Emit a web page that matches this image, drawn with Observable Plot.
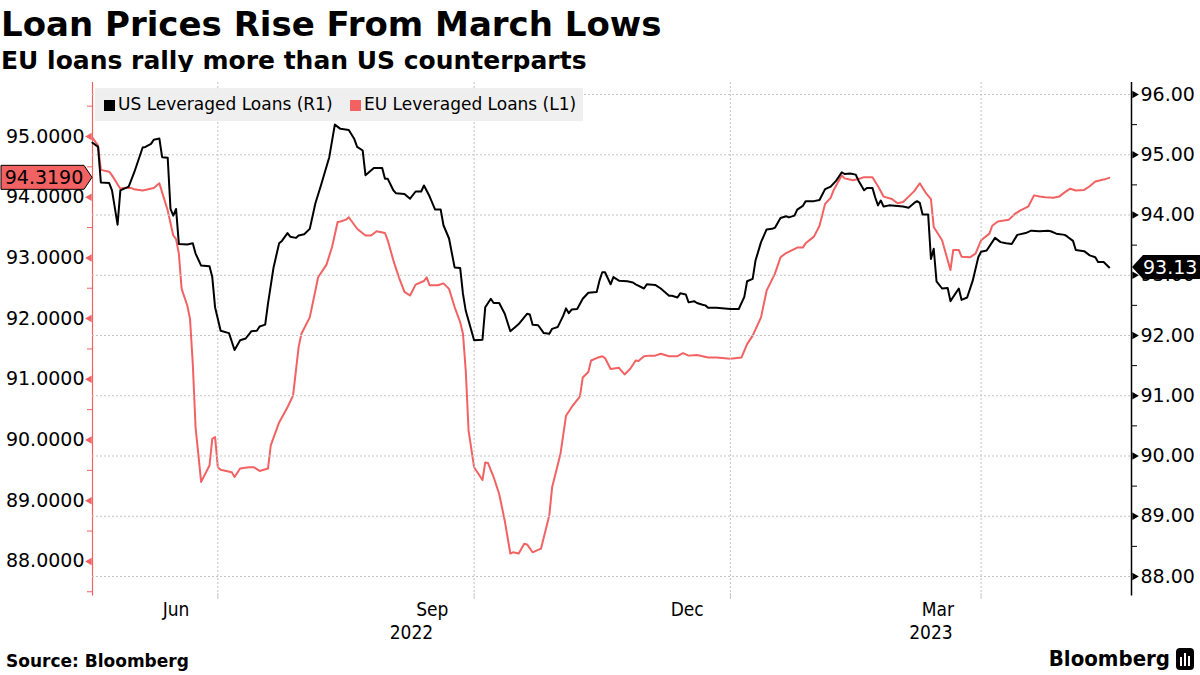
<!DOCTYPE html>
<html>
<head>
<meta charset="utf-8">
<script src="https://cdn.jsdelivr.net/npm/d3@7"></script>
<script src="https://cdn.jsdelivr.net/npm/@observablehq/plot@0.6"></script>
<style>
  html, body { margin: 0; padding: 0; background: #fff; }
  #wrap { position: relative; width: 1200px; height: 675px; overflow: hidden; font-family: "DejaVu Sans", sans-serif; color: #000; }
  #title { position: absolute; left: 1px; top: 7px; font-family: "DejaVu Sans"; font-weight: bold; font-size: 34px; line-height: 1; white-space: nowrap; }
  #subtitle { position: absolute; left: 1px; top: 48px; font-family: "DejaVu Sans"; font-weight: bold; font-size: 25px; line-height: 1; white-space: nowrap; }
  #chart { position: absolute; left: 0; top: 72px; width: 1200px; height: 575px; }
  #chart svg { position: absolute; left: 0; top: 0; }
  #legend { position: absolute; left: 95px; top: 88px; width: 488px; height: 33px; background: rgba(238,238,238,0.92); font-size: 17px; line-height: 33px; white-space: nowrap; }
  #legend .sw { display: inline-block; width: 11px; height: 11px; vertical-align: -1px; margin-right: 3px; }
  #legend .item { position: absolute; top: 0; }
  #source { position: absolute; left: 6px; top: 653px; font-family: "DejaVu Sans"; font-weight: bold; font-size: 17px; line-height: 1; }
  #logo { position: absolute; right: 6px; top: 648px; font-family: "DejaVu Sans Condensed", "DejaVu Sans"; font-stretch: condensed; font-weight: bold; font-size: 22px; line-height: 1; display: flex; align-items: center; gap: 6px; }
</style>
</head>
<body>
<div id="wrap">
  <div id="title">Loan Prices Rise From March Lows</div>
  <div id="subtitle">EU loans rally more than US counterparts</div>
  <div id="chart"></div>
  <div id="legend"></div>
  <div id="source">Source: Bloomberg</div>
  <div id="logo"><span>Bloomberg</span><svg width="18" height="22" viewBox="0 0 18 22"><rect x="0" y="0" width="18" height="22" rx="4" fill="#000"/><rect x="4" y="9" width="2" height="9" fill="#fff"/><rect x="8" y="5" width="2" height="13" fill="#fff"/><rect x="12" y="8" width="2" height="10" fill="#fff"/></svg></div>
</div>
<script>
// ---------------- DATA ----------------
const seriesNames = ["US Leveraged Loans (R1)", "EU Leveraged Loans (L1)"];

const usDates = ["2022-05-17","2022-05-19","2022-05-20","2022-05-23","2022-05-24","2022-05-26","2022-05-27","2022-05-30","2022-06-01","2022-06-04","2022-06-05","2022-06-07","2022-06-08","2022-06-10","2022-06-11","2022-06-13","2022-06-14","2022-06-15","2022-06-16","2022-06-17","2022-06-20","2022-06-22","2022-06-23","2022-06-25","2022-06-28","2022-06-29","2022-06-30","2022-07-02","2022-07-05","2022-07-07","2022-07-09","2022-07-11","2022-07-13","2022-07-15","2022-07-16","2022-07-18","2022-07-19","2022-07-21","2022-07-23","2022-07-24","2022-07-26","2022-07-27","2022-07-29","2022-07-30","2022-08-01","2022-08-03","2022-08-05","2022-08-07","2022-08-10","2022-08-12","2022-08-14","2022-08-17","2022-08-19","2022-08-20","2022-08-22","2022-08-23","2022-08-26","2022-08-29","2022-08-30","2022-08-31","2022-09-02","2022-09-03","2022-09-06","2022-09-08","2022-09-10","2022-09-12","2022-09-13","2022-09-15","2022-09-17","2022-09-19","2022-09-20","2022-09-22","2022-09-24","2022-09-26","2022-09-27","2022-09-28","2022-10-01","2022-10-04","2022-10-05","2022-10-07","2022-10-08","2022-10-10","2022-10-12","2022-10-14","2022-10-16","2022-10-17","2022-10-20","2022-10-21","2022-10-22","2022-10-24","2022-10-26","2022-10-28","2022-10-29","2022-10-31","2022-11-02","2022-11-03","2022-11-04","2022-11-05","2022-11-07","2022-11-09","2022-11-11","2022-11-14","2022-11-15","2022-11-16","2022-11-17","2022-11-19","2022-11-20","2022-11-22","2022-11-25","2022-11-27","2022-11-28","2022-12-01","2022-12-02","2022-12-05","2022-12-07","2022-12-10","2022-12-11","2022-12-13","2022-12-14","2022-12-16","2022-12-17","2022-12-19","2022-12-20","2022-12-22","2022-12-23","2022-12-24","2022-12-27","2022-12-30","2023-01-01","2023-01-04","2023-01-06","2023-01-07","2023-01-09","2023-01-10","2023-01-12","2023-01-14","2023-01-16","2023-01-17","2023-01-19","2023-01-21","2023-01-22","2023-01-24","2023-01-25","2023-01-27","2023-01-28","2023-01-31","2023-02-02","2023-02-04","2023-02-06","2023-02-08","2023-02-10","2023-02-11","2023-02-13","2023-02-15","2023-02-16","2023-02-18","2023-02-19","2023-02-21","2023-02-22","2023-02-23","2023-02-24","2023-02-25","2023-02-27","2023-03-02","2023-03-04","2023-03-06","2023-03-08","2023-03-09","2023-03-10","2023-03-11","2023-03-13","2023-03-14","2023-03-15","2023-03-16","2023-03-18","2023-03-20","2023-03-21","2023-03-24","2023-03-25","2023-03-27","2023-03-29","2023-03-31","2023-04-01","2023-04-03","2023-04-06","2023-04-08","2023-04-10","2023-04-12","2023-04-14","2023-04-17","2023-04-19","2023-04-22","2023-04-25","2023-04-26","2023-04-28","2023-05-01","2023-05-02","2023-05-04","2023-05-05","2023-05-08","2023-05-10","2023-05-12","2023-05-13","2023-05-15","2023-05-17"];
const usValues = [95.20,95.13,94.54,94.53,94.41,93.84,94.41,94.47,94.71,95.12,95.13,95.18,95.25,95.27,94.96,94.95,94.10,93.99,94.10,93.52,93.51,93.53,93.36,93.16,93.15,92.97,92.47,92.08,92.04,91.76,91.92,91.95,92.07,92.08,92.15,92.18,92.53,93.13,93.53,93.57,93.70,93.64,93.62,93.66,93.68,93.77,94.19,94.49,94.96,95.50,95.43,95.41,95.26,95.13,95.07,94.66,94.78,94.78,94.60,94.60,94.41,94.36,94.35,94.27,94.39,94.39,94.49,94.31,94.09,94.09,93.83,93.61,93.13,93.12,92.69,92.41,91.92,91.93,92.47,92.61,92.54,92.54,92.36,92.07,92.15,92.19,92.36,92.35,92.18,92.17,92.04,92.03,92.11,92.14,92.33,92.45,92.37,92.43,92.44,92.61,92.71,92.72,92.91,93.05,93.05,92.85,92.97,92.91,92.90,92.88,92.85,92.78,92.85,92.84,92.78,92.66,92.66,92.63,92.70,92.68,92.55,92.57,92.54,92.51,92.50,92.46,92.46,92.45,92.44,92.44,92.64,92.90,92.94,93.24,93.55,93.76,93.77,93.79,93.95,93.98,93.96,93.99,94.09,94.15,94.23,94.23,94.25,94.43,94.47,94.57,94.71,94.68,94.69,94.67,94.57,94.41,94.45,94.45,94.29,94.16,94.24,94.14,94.16,94.15,94.14,94.12,94.20,94.23,94.20,94.01,94.01,93.27,93.44,92.90,92.78,92.79,92.57,92.78,92.59,92.63,92.91,93.30,93.39,93.41,93.62,93.55,93.53,93.52,93.67,93.70,93.74,93.73,93.74,93.73,93.69,93.67,93.64,93.57,93.42,93.40,93.33,93.30,93.22,93.22,93.13];

const euDates = ["2022-05-17","2022-05-19","2022-05-20","2022-05-23","2022-05-24","2022-05-27","2022-05-28","2022-05-31","2022-06-01","2022-06-04","2022-06-08","2022-06-10","2022-06-11","2022-06-13","2022-06-15","2022-06-16","2022-06-17","2022-06-18","2022-06-20","2022-06-21","2022-06-22","2022-06-23","2022-06-25","2022-06-28","2022-06-29","2022-06-30","2022-07-01","2022-07-02","2022-07-06","2022-07-07","2022-07-09","2022-07-12","2022-07-14","2022-07-16","2022-07-19","2022-07-20","2022-07-23","2022-07-26","2022-07-28","2022-07-30","2022-07-31","2022-08-03","2022-08-05","2022-08-06","2022-08-09","2022-08-11","2022-08-13","2022-08-14","2022-08-16","2022-08-17","2022-08-20","2022-08-23","2022-08-25","2022-08-27","2022-08-30","2022-08-31","2022-09-02","2022-09-04","2022-09-06","2022-09-08","2022-09-10","2022-09-13","2022-09-14","2022-09-15","2022-09-18","2022-09-20","2022-09-22","2022-09-24","2022-09-26","2022-09-27","2022-09-28","2022-09-29","2022-10-01","2022-10-04","2022-10-05","2022-10-06","2022-10-08","2022-10-10","2022-10-12","2022-10-14","2022-10-15","2022-10-17","2022-10-19","2022-10-20","2022-10-22","2022-10-25","2022-10-28","2022-10-29","2022-11-01","2022-11-03","2022-11-05","2022-11-08","2022-11-09","2022-11-11","2022-11-12","2022-11-14","2022-11-16","2022-11-17","2022-11-19","2022-11-22","2022-11-24","2022-11-26","2022-11-28","2022-11-29","2022-12-01","2022-12-03","2022-12-05","2022-12-07","2022-12-10","2022-12-13","2022-12-15","2022-12-17","2022-12-20","2022-12-24","2022-12-27","2023-01-01","2023-01-05","2023-01-07","2023-01-09","2023-01-12","2023-01-14","2023-01-17","2023-01-19","2023-01-21","2023-01-25","2023-01-27","2023-01-28","2023-01-31","2023-02-02","2023-02-04","2023-02-06","2023-02-07","2023-02-10","2023-02-11","2023-02-14","2023-02-16","2023-02-18","2023-02-21","2023-02-23","2023-02-25","2023-02-28","2023-03-02","2023-03-04","2023-03-06","2023-03-08","2023-03-10","2023-03-12","2023-03-14","2023-03-15","2023-03-18","2023-03-21","2023-03-22","2023-03-24","2023-03-25","2023-03-28","2023-03-30","2023-04-01","2023-04-04","2023-04-05","2023-04-07","2023-04-11","2023-04-13","2023-04-15","2023-04-18","2023-04-20","2023-04-22","2023-04-24","2023-04-27","2023-04-29","2023-05-01","2023-05-03","2023-05-05","2023-05-08","2023-05-10","2023-05-12","2023-05-15","2023-05-17"];
const euValues = [94.98,94.85,94.45,94.42,94.36,94.14,94.15,94.15,94.13,94.11,94.15,94.23,94.08,93.78,93.37,93.31,93.07,92.49,92.22,92.00,91.26,90.21,89.31,89.58,90.02,90.05,89.55,89.51,89.47,89.39,89.53,89.55,89.55,89.49,89.53,89.91,90.29,90.54,90.73,91.53,91.75,92.02,92.46,92.68,92.89,93.18,93.59,93.60,93.63,93.67,93.48,93.37,93.37,93.44,93.41,93.29,92.96,92.68,92.44,92.38,92.56,92.62,92.68,92.55,92.55,92.58,92.49,92.19,91.94,91.75,91.14,90.16,89.55,89.34,89.63,89.62,89.39,89.11,88.67,88.13,88.15,88.13,88.29,88.28,88.15,88.21,88.76,89.22,89.77,90.40,90.54,90.72,91.03,91.12,91.31,91.35,91.38,91.35,91.17,91.19,91.08,91.17,91.31,91.30,91.38,91.39,91.39,91.42,91.38,91.38,91.43,91.39,91.40,91.36,91.36,91.34,91.36,91.58,91.72,92.02,92.46,92.74,93.01,93.08,93.17,93.17,93.24,93.35,93.53,93.89,93.99,94.11,94.36,94.31,94.28,94.30,94.33,94.33,94.18,94.01,93.97,93.90,93.92,94.01,94.10,94.23,94.08,93.97,93.51,93.29,92.80,93.13,93.13,93.02,93.01,93.07,93.29,93.40,93.53,93.60,93.63,93.72,93.78,93.85,94.03,94.01,94.00,93.99,94.01,94.08,94.14,94.11,94.12,94.18,94.26,94.29,94.319];

// axis ticks
const usTicks = [88, 89, 90, 91, 92, 93, 94, 95, 96];          // right axis (R1)
const usMinorTicks = [88.5, 89.5, 90.5, 91.5, 92.5, 93.5, 94.5, 95.5];
const euTicks = [88, 89, 90, 91, 92, 93, 94, 95];              // left axis (L1)
const euMinorTicks = [87.5, 88.5, 89.5, 90.5, 91.5, 92.5, 93.5, 94.5, 95.5];
const quarterStarts = ["2022-07-01", "2022-10-01", "2023-01-01", "2023-04-01"];
const labelMonths = ["2022-06-01", "2022-09-01", "2022-12-01", "2023-03-01"];
const labelYears = ["2022-01-01", "2023-01-01"];
const xDomain = ["2022-05-17", "2023-05-25"];
const usDomain = [87.7178, 96.1992];
const euDomain = [87.4712, 95.8896];

// ---------------- BUILD ----------------
const RED = "#f26262";
const GRID = "#c4c4c4";
const parse = s => new Date(s + "T00:00:00Z");
const us = usDates.map((d, i) => ({date: parse(d), value: usValues[i]}));
const eu = euDates.map((d, i) => ({date: parse(d), value: euValues[i]}));
const xd = xDomain.map(parse);
const qStarts = quarterStarts.map(parse);
const monthMids = labelMonths.map(s => { const a = parse(s); const b = d3.utcMonth.offset(a, 1); return new Date((+a + +b) / 2); });
const yearMids = labelYears.map(s => {
  const a = parse(s), b = d3.utcYear.offset(a, 1);
  const lo = Math.max(+a, +xd[0]), hi = Math.min(+b, +xd[1]);
  return new Date((lo + hi) / 2);
});

const common = {
  width: 1200, height: 575,
  marginTop: 10, marginBottom: 54, marginLeft: 92, marginRight: 69,
  style: {fontFamily: "DejaVu Sans", fontSize: "19px", color: "#000", overflow: "visible"}
};

// EU chart (left axis), bottom layer
const chartEU = Plot.plot({
  ...common,
  style: {...common.style, background: "#fff"},
  x: {type: "utc", domain: xd, axis: null, label: null},
  y: {domain: euDomain, label: null, axis: null},
  marks: [
    Plot.ruleX([xd[0]], {stroke: RED, strokeWidth: 1.2, y1: euDomain[0] - 0.04, y2: euDomain[1]}),
    Plot.axisY(euMinorTicks.filter(v => v > euDomain[0] && v < euDomain[1]), {anchor: "left", tickSize: 5, stroke: RED, tickFormat: () => "", label: null}),
    Plot.axisY(euTicks, {anchor: "left", tickSize: 0, tickPadding: 8, tickFormat: d => d.toFixed(4), fill: "#000", fontSize: 19, label: null}),
    Plot.dot(euTicks, {y: d => d, frameAnchor: "left", dx: -3, symbol: "triangle", rotate: -90, r: 2.8, fill: RED, stroke: "none"}),
    Plot.lineY(eu, {x: "date", y: "value", stroke: RED, strokeWidth: 2})
  ]
});

// US chart (right axis), top layer
const chartUS = Plot.plot({
  ...common,
  style: {...common.style, background: "transparent"},
  x: {type: "utc", domain: xd, label: null},
  y: {domain: usDomain, label: null},
  marks: [
    Plot.gridY(usTicks, {stroke: GRID, strokeOpacity: 1, strokeDasharray: "2,2"}),
    Plot.gridX(qStarts, {stroke: GRID, strokeOpacity: 1, strokeDasharray: "2,2"}),
    Plot.axisX(qStarts, {anchor: "bottom", tickSize: 6, stroke: GRID, tickFormat: () => "", label: null}),
    Plot.axisX(monthMids, {anchor: "bottom", tickSize: 0, tickPadding: 9, tickFormat: d3.utcFormat("%b"), fontSize: 19, fontFamily: "DejaVu Sans Condensed", fill: "#000", label: null}),
    Plot.axisX(yearMids, {anchor: "bottom", tickSize: 0, tickPadding: 32, tickFormat: d3.utcFormat("%Y"), fontSize: 19, fontFamily: "DejaVu Sans Condensed", fill: "#000", label: null}),
    Plot.ruleX([xd[1]], {stroke: "#000", strokeWidth: 1.5, y1: usDomain[0] - 0.04, y2: usDomain[1]}),
    Plot.axisY(usMinorTicks, {anchor: "right", tickSize: 5, stroke: "#000", tickFormat: () => "", label: null}),
    Plot.axisY(usTicks, {anchor: "right", tickSize: 0, tickPadding: 9, tickFormat: d => d.toFixed(2), fill: "#000", fontSize: 19, label: null}),
    Plot.dot(usTicks, {y: d => d, frameAnchor: "right", dx: 3, symbol: "triangle", rotate: 90, r: 2.8, fill: "#000", stroke: "none"}),
    Plot.lineY(us, {x: "date", y: "value", stroke: "#000", strokeWidth: 2})
  ]
});

const holder = document.getElementById("chart");
holder.appendChild(chartEU);
holder.appendChild(chartUS);

// last-value tags, positioned through the charts' own scales
const euLast = eu[eu.length - 1].value;
const usLast = us[us.length - 1].value;
const xS = chartUS.scale("x");
const leftX = xS.apply(xd[0]);
const rightX = xS.apply(xd[1]);
const cyEU = chartEU.scale("y").apply(euLast);
const cyUS = chartUS.scale("y").apply(usLast);
const svg = d3.select(chartUS);
const h = 12;
svg.append("path")
  .attr("d", `M1,${cyEU - h}H${leftX - 8}L${leftX},${cyEU}L${leftX - 8},${cyEU + h}H1Z`)
  .attr("fill", RED).attr("stroke", "#000").attr("stroke-width", 1);
svg.append("text").attr("x", (leftX - 6) / 2 + 1).attr("y", cyEU).attr("dy", "0.36em")
  .attr("text-anchor", "middle").attr("font-size", 19).attr("fill", "#000").text(euLast.toFixed(4));
svg.append("path")
  .attr("d", `M${rightX + 1},${cyUS}L${rightX + 12},${cyUS - h}H1200V${cyUS + h}H${rightX + 12}Z`)
  .attr("fill", "#000");
svg.append("text").attr("x", rightX + 12).attr("y", cyUS).attr("dy", "0.36em")
  .attr("text-anchor", "start").attr("font-size", 19).attr("fill", "#fff").text(usLast.toFixed(2));

// legend
const legend = document.getElementById("legend");
[[seriesNames[0], "#000", 9], [seriesNames[1], RED, 255]].forEach(([name, color, left]) => {
  const it = document.createElement("div");
  it.className = "item";
  it.style.left = left + "px";
  it.innerHTML = `<span class="sw" style="background:${color}"></span>${name}`;
  legend.appendChild(it);
});
</script>
</body>
</html>
